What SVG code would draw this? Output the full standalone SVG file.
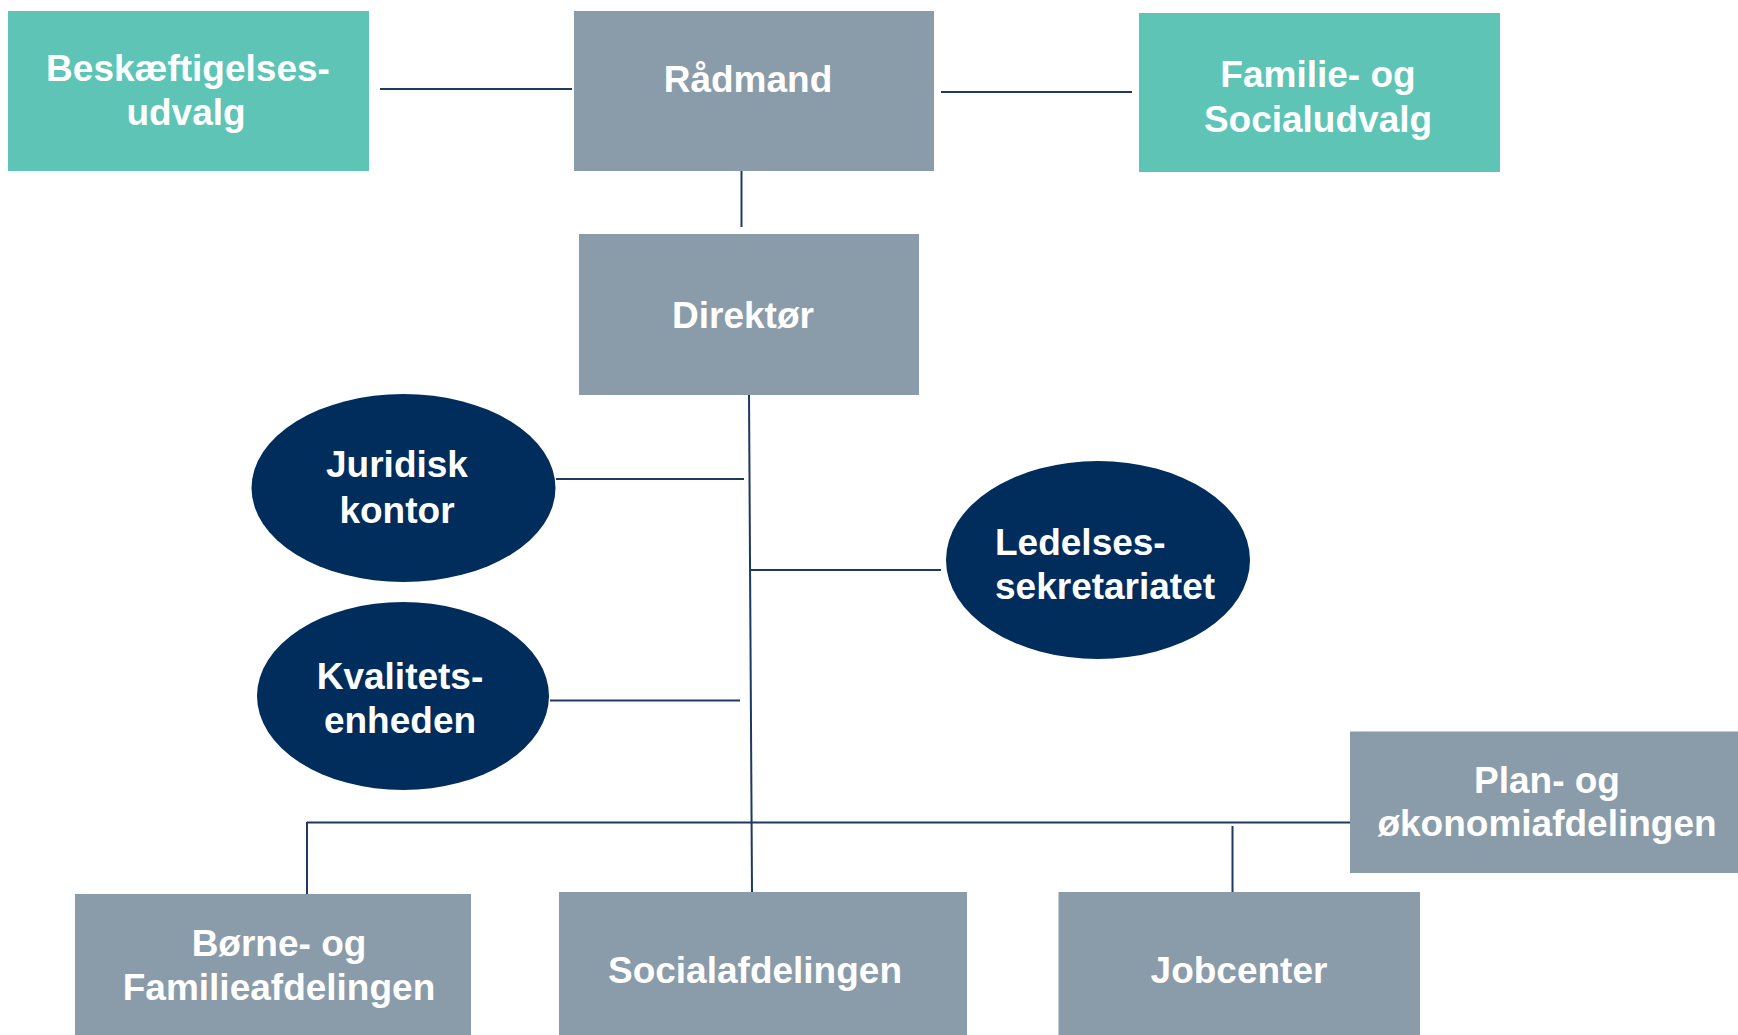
<svg xmlns="http://www.w3.org/2000/svg" width="1738" height="1035" viewBox="0 0 1738 1035">
<style>
.teal{fill:#5DC4B6}
.gray{fill:#8A9BAA}
.navy{fill:#002D5C}
text{font-family:"Liberation Sans",Arial,sans-serif;font-weight:bold;font-size:37px;fill:#FFFFFF;text-anchor:middle}
.ln{stroke:#1F3864;stroke-width:2;fill:none}
</style>
<rect width="1738" height="1035" fill="#FFFFFF"/>
<g id="connectors">
<line class="ln" x1="380" y1="89" x2="572" y2="89"/>
<line class="ln" x1="941" y1="92" x2="1132" y2="92"/>
<line class="ln" x1="741.5" y1="171" x2="741.5" y2="227"/>
<line class="ln" x1="749" y1="395" x2="752" y2="892"/>
<line class="ln" x1="556" y1="479" x2="744" y2="479"/>
<line class="ln" x1="751" y1="570" x2="941" y2="570"/>
<line class="ln" x1="550" y1="700.5" x2="740" y2="700.5"/>
<line class="ln" x1="307" y1="822.5" x2="1350" y2="822.5"/>
<line class="ln" x1="307" y1="822" x2="307" y2="894"/>
<line class="ln" x1="1232.5" y1="826" x2="1232.5" y2="892"/>
</g>
<g id="beskaeftigelsesudvalg">
<rect class="teal" x="8" y="11" width="361" height="160"/>
<text x="188" y="81">Beskæftigelses-</text>
<text x="186" y="125">udvalg</text>
</g>
<g id="raadmand">
<rect class="gray" x="574" y="11" width="360" height="160"/>
<text x="748" y="92">Rådmand</text>
</g>
<g id="familie-og-socialudvalg">
<rect class="teal" x="1139" y="13" width="361" height="159"/>
<text x="1318" y="87">Familie- og</text>
<text x="1318" y="132">Socialudvalg</text>
</g>
<g id="direktoer">
<rect class="gray" x="579" y="234" width="340" height="161"/>
<text x="743" y="328">Direktør</text>
</g>
<g id="juridisk-kontor">
<ellipse class="navy" cx="403.5" cy="488" rx="152" ry="94"/>
<text x="397" y="477">Juridisk</text>
<text x="397" y="523">kontor</text>
</g>
<g id="ledelsessekretariatet">
<ellipse class="navy" cx="1098" cy="560" rx="152" ry="99"/>
<text x="995" y="555" style="text-anchor:start">Ledelses-</text>
<text x="995" y="599" style="text-anchor:start">sekretariatet</text>
</g>
<g id="kvalitetsenheden">
<ellipse class="navy" cx="403" cy="696" rx="146" ry="94"/>
<text x="400" y="689">Kvalitets-</text>
<text x="400" y="733">enheden</text>
</g>
<g id="plan-og-oekonomiafdelingen">
<rect class="gray" x="1350" y="731.5" width="388" height="141.5"/>
<text x="1547" y="793">Plan- og</text>
<text x="1547" y="836">økonomiafdelingen</text>
</g>
<g id="boerne-og-familieafdelingen">
<rect class="gray" x="75" y="894" width="396" height="141"/>
<text x="279" y="956">Børne- og</text>
<text x="279" y="1000">Familieafdelingen</text>
</g>
<g id="socialafdelingen">
<rect class="gray" x="559" y="892" width="408" height="143"/>
<text x="755" y="983">Socialafdelingen</text>
</g>
<g id="jobcenter">
<rect class="gray" x="1058.5" y="892" width="361.5" height="143"/>
<text x="1239" y="983">Jobcenter</text>
</g>
</svg>
